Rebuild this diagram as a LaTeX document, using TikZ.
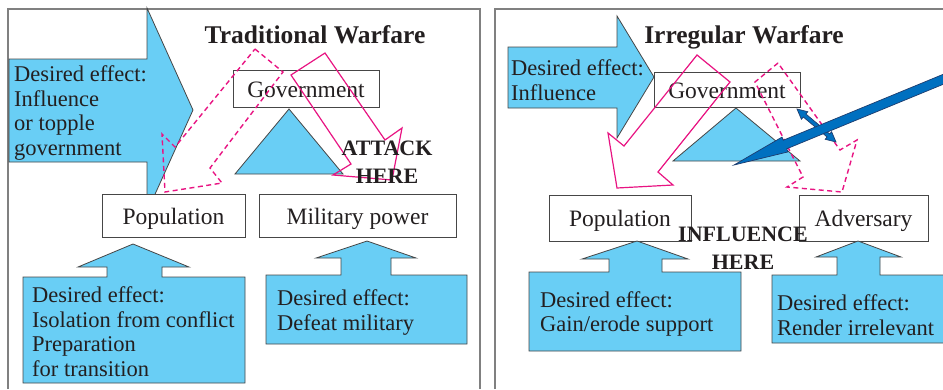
\documentclass[tikz,border=0pt]{standalone}
\usepackage{fontspec}
\setmainfont{Liberation Serif}
\usetikzlibrary{arrows.meta}
\definecolor{lblue}{RGB}{105,206,245}
\definecolor{pinkc}{RGB}{232,20,130}
\definecolor{dblue}{RGB}{0,112,192}
\definecolor{dblueline}{RGB}{30,60,110}
\definecolor{framec}{RGB}{128,128,128}
\definecolor{inkc}{RGB}{35,31,32}
\definecolor{edgec}{RGB}{70,70,70}
\begin{document}
\begin{tikzpicture}[x=1pt,y=-1pt,
  frame/.style={draw=framec,line width=1.3pt},
  shapeblue/.style={fill=lblue,draw=edgec,line width=0.8pt,line join=miter},
  box/.style={draw=edgec,fill=white,line width=0.9pt,inner sep=0pt,
    font=\fontsize{23.5}{26}\selectfont,text=inkc,text height=20pt,text depth=3pt},
  effect/.style={font=\fontsize{22.5}{24.5}\selectfont,text=inkc,align=left,anchor=base west,inner sep=0pt},
  title/.style={font=\fontsize{25.5}{28}\selectfont\bfseries,text=inkc,anchor=base,inner sep=0pt},
  callout/.style={font=\fontsize{22}{27.5}\selectfont\bfseries,text=inkc,align=center,anchor=base,inner sep=0pt},
  pinksolid/.style={draw=pinkc,line width=1.2pt,line join=miter},
  pinkdash/.style={draw=pinkc,line width=1.4pt,dash pattern=on 5pt off 3.5pt},
  bigarrow/.style={fill=dblue,draw=dblueline,line width=0.7pt,line join=miter},
]
\useasboundingbox (0,0) rectangle (943,389);
\begin{scope}
\clip (0,0) rectangle (943,389);
% frames
\draw[frame] (8,389) -- (8,9) -- (480,9) -- (480,389);
\draw[frame] (495,389) -- (495,9) -- (945,9);

% ===== Traditional warfare =====
\filldraw[shapeblue] (9,59) -- (147,59) -- (147,8) -- (193,110) -- (147,212) -- (147,162) -- (9,162) -- cycle;
\node[effect] (effTop) at (14,155) {Desired effect:\\Influence\\or topple\\government};
\node[title] (titleL) at (315,43) {Traditional Warfare};
\node[box,minimum width=146pt,minimum height=37pt] (govL) at (306,88.5) {Government};
\filldraw[shapeblue] (289,109) -- (343,174) -- (235,174) -- cycle;
\node[box,minimum width=143pt,minimum height=43pt] (popL) at (173.5,215.5) {Population};
\node[box,minimum width=197pt,minimum height=43pt] (milL) at (357.5,215.5) {Military power};
% effect arrows
\filldraw[shapeblue] (23,277) -- (107,277) -- (107,267) -- (78,267) -- (133,244) -- (189,267) -- (162,267) -- (162,277) -- (245,277) -- (245,383) -- (23,383) -- cycle;
\node[effect] (effPopL) at (32,376) {Desired effect:\\Isolation from conflict\\Preparation\\for transition};
\filldraw[shapeblue] (266,275) -- (341,275) -- (341,258) -- (316,258) -- (367,241) -- (416,258) -- (391,258) -- (391,275) -- (467,275) -- (467,344) -- (266,344) -- cycle;
\node[effect] (effMilL) at (277,330) {Desired effect:\\Defeat military};
% pink arrows
\draw[pinkdash] (255,49) -- (283,72) -- (210,168) -- (222,183) -- (165,192) -- (162,134) -- (175,147) -- cycle;
\draw[pinksolid] (325,53) -- (291,75) -- (351,164) -- (333,175) -- (392,180) -- (402,128) -- (385,140) -- cycle;
\node[callout] (attack) at (387,183) {ATTACK\\HERE};

% ===== Irregular warfare =====
\filldraw[shapeblue] (508,47) -- (617,47) -- (617,16) -- (654,77) -- (617,138) -- (617,108) -- (508,108) -- cycle;
\node[effect] (effTopR) at (511,100) {Desired effect:\\Influence};
\node[title] (titleR) at (744,43) {Irregular Warfare};
\node[box,minimum width=146pt,minimum height=35pt] (govR) at (727,89.5) {Government};
\filldraw[shapeblue] (736,108) -- (800,161) -- (673,161) -- cycle;
\node[box,minimum width=142pt,minimum height=46pt] (popR) at (620,218) {Population};
\node[box,minimum width=129pt,minimum height=46pt] (advR) at (863.5,218) {Adversary};
\filldraw[shapeblue] (529,272) -- (609,272) -- (609,259) -- (582,259) -- (637,241) -- (688,259) -- (662,259) -- (662,272) -- (741,272) -- (741,351) -- (529,351) -- cycle;
\node[effect] (effPopR) at (540,331.5) {Desired effect:\\Gain/erode support};
\filldraw[shapeblue] (772,275) -- (837,275) -- (837,257) -- (816,257) -- (858,241) -- (901,257) -- (880,257) -- (880,275) -- (950,275) -- (950,343) -- (772,343) -- cycle;
\node[effect] (effAdvR) at (777,335) {Desired effect:\\Render irrelevant};
% pink arrows
\draw[pinksolid] (697,55) -- (730,82) -- (658,172) -- (673,185) -- (617,188) -- (608,133) -- (624,146) -- cycle;
\draw[pinkdash] (778,63) -- (755,82) -- (803,177) -- (787,187) -- (842,192) -- (857,140) -- (840,150) -- cycle;
\node[callout] (influence) at (743,269) {INFLUENCE\\HERE};
% dark blue arrows
\filldraw[bigarrow] (797,109) -- (801.4,119.3) -- (803.3,117.0) -- (827.1,137.0) -- (825.2,139.3) -- (836,142) -- (831.6,131.7) -- (829.7,134.0) -- (805.9,114.0) -- (807.8,111.7) -- cycle;
\filldraw[bigarrow] (948.3,72.2) -- (783.3,140.2) -- (782.0,137.1) -- (734,165) -- (788.0,151.9) -- (786.7,148.8) -- (951.7,80.8) -- cycle;
\end{scope}
\end{tikzpicture}
\end{document}
